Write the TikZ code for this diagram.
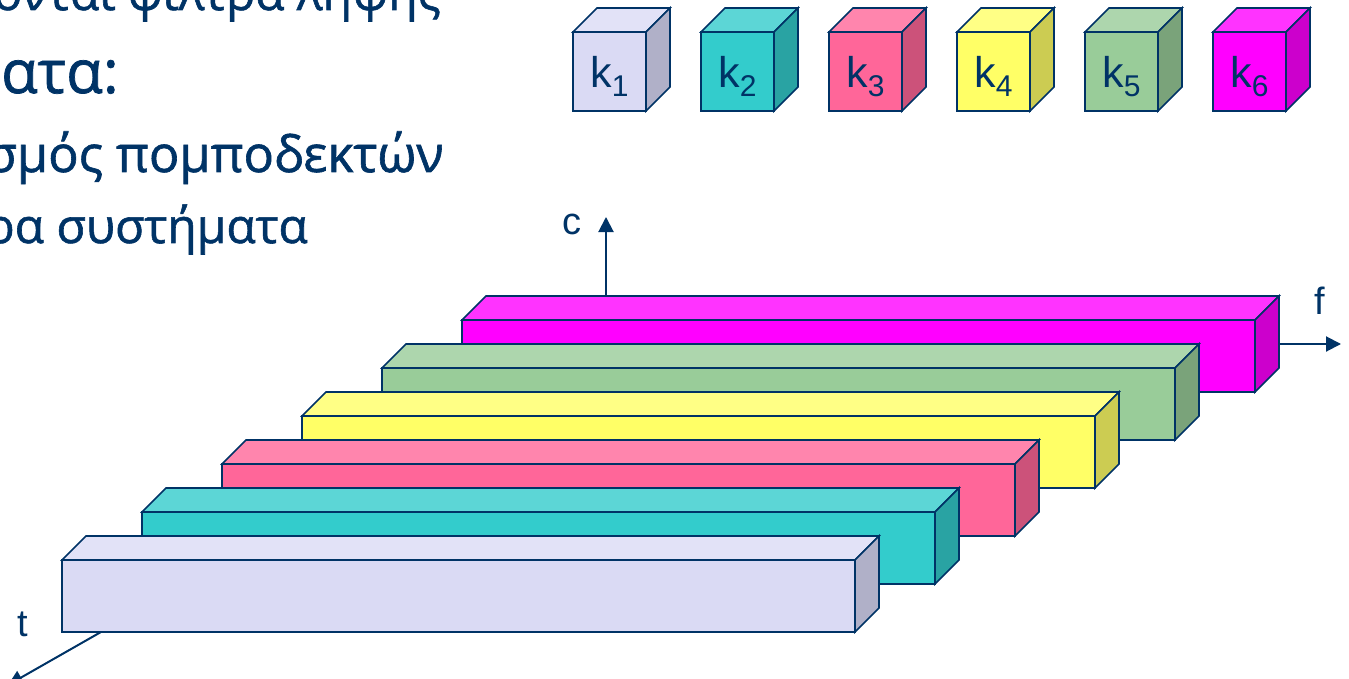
\documentclass[tikz,border=0pt]{standalone}
\usepackage{fontspec}
\setmainfont{Liberation Sans}
\newfontfamily\greekfont[FakeBold=1.2]{Open Sans}
\usetikzlibrary{arrows.meta}
\definecolor{navy}{HTML}{003366}
\definecolor{lavF}{HTML}{DADAF4}\definecolor{lavT}{HTML}{E2E2F7}\definecolor{lavS}{HTML}{B0B0C8}
\definecolor{tealF}{HTML}{33CCCC}\definecolor{tealT}{HTML}{5CD6D6}\definecolor{tealS}{HTML}{29A3A3}
\definecolor{pinkF}{HTML}{FF6699}\definecolor{pinkT}{HTML}{FF85AD}\definecolor{pinkS}{HTML}{CC527A}
\definecolor{yelF}{HTML}{FFFF66}\definecolor{yelT}{HTML}{FFFF85}\definecolor{yelS}{HTML}{CCCC52}
\definecolor{grnF}{HTML}{99CC99}\definecolor{grnT}{HTML}{ADD6AD}\definecolor{grnS}{HTML}{7AA37A}
\definecolor{magF}{HTML}{FF00FF}\definecolor{magT}{HTML}{FF33FF}\definecolor{magS}{HTML}{CC00CC}
\tikzset{
  edge/.style={draw=navy, line width=1.6pt, line join=miter},
  axis/.style={draw=navy, line width=2pt, -{Triangle[length=15pt,width=15pt]}},
  axislabel/.style={text=navy, inner sep=0pt, anchor=base, font=\fontsize{38}{40}\selectfont},
  klabel/.style={text=navy, inner sep=0pt, anchor=base, font=\fontsize{43}{45}\selectfont},
  greektext/.style={text=navy, inner sep=0pt, anchor=base east, font=\greekfont\fontsize{48}{58}\selectfont},
}
% #1 x, #2 y (front top-left), #3 w, #4 h, #5 front, #6 top, #7 side
\newcommand\prismbox[7]{%
  \filldraw[edge, fill=#6] (#1,#2) -- ++(24,-24) -- ++(#3,0) -- ++(-24,24) -- cycle;
  \filldraw[edge, fill=#7] (#1+#3,#2) -- ++(24,-24) -- ++(0,#4) -- ++(-24,24) -- cycle;
  \filldraw[edge, fill=#5] (#1,#2) rectangle ++(#3,#4);
}
\newcommand\ksub[1]{k\raisebox{-9pt}{\fontsize{30}{30}\selectfont #1}}
\begin{document}
\begin{tikzpicture}[x=1pt,y=-1pt]
\useasboundingbox (0,0) rectangle (1349,679);
\clip (0,0) rectangle (1349,679);

% Greek slide text (clipped at the left and top edges, as in the reference)
\node[greektext] (l1) at (441,10) {ονται φίλτρα λήψης};
\node[greektext, font=\greekfont\fontsize{60}{66}\selectfont] (l2) at (119,93) {ατα:};
\node[greektext, font=\greekfont\fontsize{50.5}{60}\selectfont] (l3) at (444,172) {σμός πομποδεκτών};
\node[greektext] (l4) at (308,243) {ρα συστήματα};

% cubes
\prismbox{573}{32}{73}{79}{lavF}{lavT}{lavS}
\prismbox{701}{32}{73}{79}{tealF}{tealT}{tealS}
\prismbox{829}{32}{73}{79}{pinkF}{pinkT}{pinkS}
\prismbox{957}{32}{73}{79}{yelF}{yelT}{yelS}
\prismbox{1085}{32}{73}{79}{grnF}{grnT}{grnS}
\prismbox{1213}{32}{73}{79}{magF}{magT}{magS}
\node[klabel] (k1) at (609.5,88) {\ksub{1}};
\node[klabel] (k2) at (737.5,88) {\ksub{2}};
\node[klabel] (k3) at (865.5,88) {\ksub{3}};
\node[klabel] (k4) at (993.5,88) {\ksub{4}};
\node[klabel] (k5) at (1121.5,88) {\ksub{5}};
\node[klabel] (k6) at (1249.5,88) {\ksub{6}};

% axes
\coordinate (O) at (606,344);
\coordinate (cTip) at (606,217);
\coordinate (fTip) at (1341,344);
\coordinate (tTip) at (8,685);
\draw[axis] (O) -- (cTip);
\draw[axis] (O) -- (fTip);
\draw[axis] (O) -- (tTip);
\node[axislabel] (cl) at (572,234) {c};
\node[axislabel] (fl) at (1320,314) {f};
\node[axislabel] (tl) at (23,636) {t};

% channel bars, back to front
\prismbox{462}{320}{793}{72}{magF}{magT}{magS}
\prismbox{382}{368}{793}{72}{grnF}{grnT}{grnS}
\prismbox{302}{416}{793}{72}{yelF}{yelT}{yelS}
\prismbox{222}{464}{793}{72}{pinkF}{pinkT}{pinkS}
\prismbox{142}{512}{793}{72}{tealF}{tealT}{tealS}
\prismbox{62}{560}{793}{72}{lavF}{lavT}{lavS}
\end{tikzpicture}
\end{document}
